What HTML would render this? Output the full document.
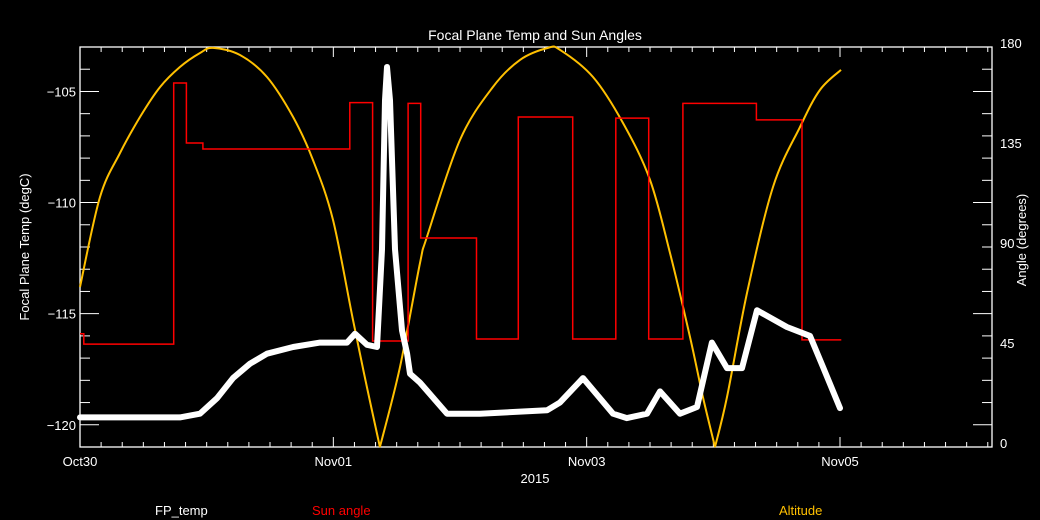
<!DOCTYPE html>
<html><head><meta charset="utf-8"><style>
html,body{margin:0;padding:0;background:#000;}
svg{display:block;font-family:"Liberation Sans",sans-serif;}
</style></head><body>
<svg id="chart" width="1040" height="520" viewBox="0 0 1040 520">
<rect width="1040" height="520" fill="#000"/>
<text x="535" y="40" fill="#fff" font-size="14" text-anchor="middle">Focal Plane Temp and Sun Angles</text>
<g id="axes"></g>
<g id="series"></g>
<text x="0" y="0" transform="translate(29,247) rotate(-90)" fill="#fff" font-size="13" text-anchor="middle">Focal Plane Temp (degC)</text>
<text x="0" y="0" transform="translate(1026,240) rotate(-90)" fill="#fff" font-size="13" text-anchor="middle">Angle (degrees)</text>
<text x="535" y="483" fill="#fff" font-size="13" text-anchor="middle">2015</text>
<text x="155" y="515" fill="#fff" font-size="13">FP_temp</text>
<text x="312" y="515" fill="#ff0000" font-size="13">Sun angle</text>
<text x="779" y="515" fill="#ffc000" font-size="13">Altitude</text>
</svg>
<script>
const xTickLabels = ["Oct30","Nov01","Nov03","Nov05"];
const xTickDays = [0,2,4,6];
const leftTicks = [-105,-110,-115,-120];
const rightTicks = [0,45,90,135,180];
const tempDays = [0,0.789,0.947,1.082,1.208,1.342,1.476,1.682,1.895,2.108,2.171,2.266,2.345,2.384,2.408,2.424,2.447,2.487,2.542,2.582,2.605,2.684,2.897,3.158,3.687,3.789,3.971,4.208,4.318,4.476,4.579,4.737,4.871,4.989,5.108,5.226,5.345,5.581,5.763,5.866,6.0];
const tempVals = [-119.67,-119.67,-119.5,-118.8,-117.9,-117.25,-116.8,-116.5,-116.3,-116.3,-115.9,-116.4,-116.5,-112.1,-105.4,-103.9,-105.4,-112.1,-115.75,-116.8,-117.7,-118.1,-119.5,-119.5,-119.35,-119.0,-117.9,-119.5,-119.7,-119.5,-118.5,-119.5,-119.2,-116.3,-117.45,-117.45,-114.85,-115.6,-116.0,-117.4,-119.25];
const sunDays = [0,0.03,0.74,0.84,0.97,2.13,2.31,2.59,2.69,3.13,3.46,3.89,4.23,4.49,4.76,5.34,5.70,6.01];
const sunVals = [51,46.3,163.8,136.8,134.1,155,47.7,154.6,94.05,48.6,148.5,48.6,148,48.6,154.6,147.2,48.2,48.2];
const altDays = [0,0.158,0.316,0.474,0.632,0.789,0.947,1.05,1.263,1.476,1.682,1.839,1.997,2.155,2.265,2.368,2.526,2.684,2.739,3.0,3.26,3.474,3.695,3.79,4.05,4.287,4.5,4.658,4.816,4.918,5.013,5.108,5.266,5.471,5.684,5.842,6.008];
const altVals = [72,112.5,132.3,148.5,162,171,177.3,179.6,176.4,166.5,148.5,129.2,102.2,57.2,27,0,36,82.8,94.5,138.2,162,174.2,179.6,178.7,166.5,145.8,120.2,87.3,49.5,22.5,0,22.5,69.3,117,144,160.7,169.7];

const X0=80,X1=992,Y0=47,Y1=447,DMAX=7.2;
const xs=d=>X0+(X1-X0)*d/DMAX;
const yl=t=>Y0+(Y1-Y0)*(-103-t)/18;
const yr=a=>Y1-(Y1-Y0)*a/180;
const NS="http://www.w3.org/2000/svg";
function mk(tag,attrs,parent){const e=document.createElementNS(NS,tag);for(const k in attrs)e.setAttribute(k,attrs[k]);parent.appendChild(e);return e;}
const axes=document.getElementById('axes'), ser=document.getElementById('series');

let el=mk('rect',{x:X0,y:Y0,width:X1-X0,height:Y1-Y0,fill:'none',stroke:'#fff','stroke-width':1.3},axes);


for(let i=0;i<=43;i++){const d=i/6;const x=xs(d);const major=(i%12===0);const L=major?10:5;
 el=mk('line',{x1:x,y1:Y1,x2:x,y2:Y1-L,stroke:'#fff','stroke-width':1},axes);
 
 
 el=mk('line',{x1:x,y1:Y0,x2:x,y2:Y0+L,stroke:'#fff','stroke-width':1},axes);
 
 }
xTickLabels.forEach((s,i)=>{el=mk('text',{x:xs(xTickDays[i]),y:466,fill:'#fff','font-size':13,'text-anchor':'middle'},axes);el.textContent=s;
 
 });
for(let t=-103;t>=-121;t--){const y=yl(t);const major=(t%5===0);const L=major?19:10;
 el=mk('line',{x1:X0,y1:y,x2:X0+L,y2:y,stroke:'#fff','stroke-width':1},axes);
 
 
 el=mk('line',{x1:X1,y1:y,x2:X1-L,y2:y,stroke:'#fff','stroke-width':1},axes);
 
 }
leftTicks.forEach(t=>{el=mk('text',{x:76,y:yl(t)+5,fill:'#fff','font-size':13,'text-anchor':'end'},axes);el.textContent='\u2212'+Math.abs(t);
 
 });
rightTicks.forEach(a=>{el=mk('text',{x:1000,y:yr(a)+1,fill:'#fff','font-size':13},axes);el.textContent=a;
 
 });

// altitude: smooth Catmull-Rom, broken at zero cusps
const ap=altDays.map((d,i)=>[xs(d),yr(altVals[i])]);
let dstr='M'+ap[0][0].toFixed(1)+','+ap[0][1].toFixed(1);
for(let i=0;i<ap.length-1;i++){
 const p1=ap[i],p2=ap[i+1];
 const p0=(i>0&&altVals[i]!==0)?ap[i-1]:p1;
 const p3=(i+2<ap.length&&altVals[i+1]!==0)?ap[i+2]:p2;
 const c1=[p1[0]+(p2[0]-p0[0])/6,p1[1]+(p2[1]-p0[1])/6];
 const c2=[p2[0]-(p3[0]-p1[0])/6,p2[1]-(p3[1]-p1[1])/6];
 dstr+=' C'+c1[0].toFixed(1)+','+c1[1].toFixed(1)+' '+c2[0].toFixed(1)+','+c2[1].toFixed(1)+' '+p2[0].toFixed(1)+','+p2[1].toFixed(1);
}
el=mk('path',{d:dstr,fill:'none',stroke:'#ffc000','stroke-width':2},ser);


let sp=[];sunDays.forEach((d,i)=>{if(i>0)sp.push(xs(d).toFixed(1)+','+yr(sunVals[i-1]).toFixed(1));sp.push(xs(d).toFixed(1)+','+yr(sunVals[i]).toFixed(1));});
el=mk('polyline',{points:sp.join(' '),fill:'none',stroke:'#ff0000','stroke-width':1.5},ser);


let pts=tempDays.map((d,i)=>xs(d).toFixed(1)+','+yl(tempVals[i]).toFixed(1)).join(' ');
el=mk('polyline',{points:pts,fill:'none',stroke:'#fff','stroke-width':6,'stroke-linejoin':'round','stroke-linecap':'round'},ser);


</script>
</body></html>
